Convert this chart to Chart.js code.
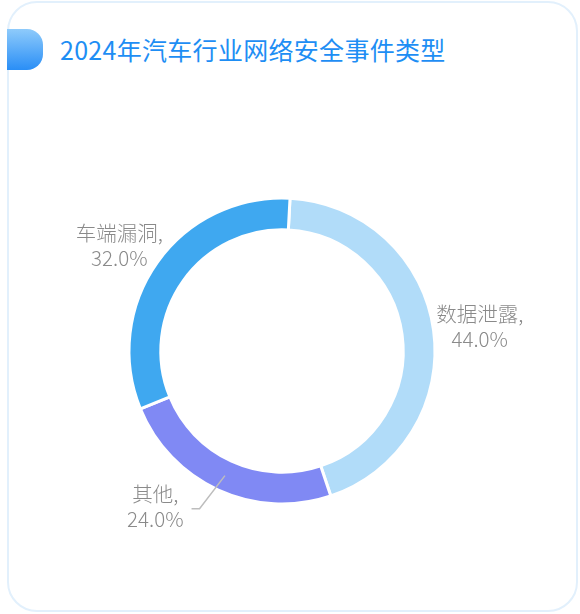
<!DOCTYPE html>
<html>
<head>
<meta charset="utf-8">
<script src="https://cdn.jsdelivr.net/npm/chart.js@4.4.1/dist/chart.umd.min.js"></script>
<style>
  html, body { margin: 0; padding: 0; background: #ffffff; }
  body { width: 580px; height: 614px; position: relative; overflow: hidden; font-family: "Noto Sans CJK SC", "Noto Sans", sans-serif; }
  .card { position: absolute; left: 7px; top: 1px; width: 567px; height: 607px; border: 2px solid #e2f0fc; border-radius: 30px; background: #fff; }
  .icon { position: absolute; left: 7px; top: 29px; width: 36px; height: 41px; border-radius: 0 16px 16px 0; background: linear-gradient(180deg, #8ecbfb 0%, #2a8ef6 100%); }
  .title { position: absolute; left: 60px; top: 33px; font-size: 25px; line-height: 32px; color: #1e8ef4; white-space: nowrap; letter-spacing: 0.3px; }
  #c { position: absolute; left: 0; top: 0; }
</style>
</head>
<body>
<div class="card"></div>
<div class="icon"></div>
<div class="title">2024年汽车行业网络安全事件类型</div>
<canvas id="c" width="580" height="614"></canvas>
<script>
const categories = ['数据泄露', '其他', '车端漏洞'];
const shares = [44.0, 24.0, 32.0];
const sliceColors = ['#b1dcf9', '#8089f4', '#3fa8f0'];

const labelPlugin = {
  id: 'outerLabels',
  afterDatasetsDraw(chart, args, opts) {
    const ctx = chart.ctx;
    const meta = chart.getDatasetMeta(0);
    const ds = chart.data.datasets[0];
    ctx.save();
    ctx.font = opts.font;
    ctx.fillStyle = opts.color;
    ctx.textBaseline = 'middle';
    meta.data.forEach((arc, i) => {
      const p = arc.getProps(['x', 'y', 'startAngle', 'endAngle', 'outerRadius', 'innerRadius'], true);
      const mid = (p.startAngle + p.endAngle) / 2;
      const c = Math.cos(mid), s = Math.sin(mid);
      const lines = [chart.data.labels[i] + ',', ds.data[i].toFixed(1) + '%'];
      const w = Math.max(...lines.map(t => ctx.measureText(t).width));
      const lh = opts.lineHeight;
      const h = lh * lines.length;
      let cx, cy;
      if (opts.lineIndices.includes(i)) {
        const rm = (p.outerRadius + p.innerRadius) / 2;
        const x0 = p.x + c * rm, y0 = p.y + s * rm;
        const a1 = mid + (c < 0 ? 1 : -1) * opts.bend * Math.PI / 180;
        const r1 = p.outerRadius + opts.len1;
        const x1 = p.x + Math.cos(a1) * r1, y1 = p.y + Math.sin(a1) * r1;
        const dirX = c < 0 ? -1 : 1;
        const x2 = x1 + dirX * opts.len2;
        ctx.save();
        ctx.strokeStyle = opts.lineColor;
        ctx.lineWidth = 1.5;
        ctx.beginPath();
        ctx.moveTo(x0, y0); ctx.lineTo(x1, y1); ctx.lineTo(x2, y1);
        ctx.stroke();
        ctx.restore();
        cx = x2 + dirX * (opts.textGap + w / 2);
        cy = y1 - 2;
      } else {
        const ax = p.x + c * (p.outerRadius + opts.gap);
        const ay = p.y + s * (p.outerRadius + opts.gap);
        cx = ax + c * w / 2;
        cy = ay + s * h / 2;
      }
      ctx.textAlign = 'center';
      lines.forEach((t, k) => {
        ctx.fillText(t, cx, cy + (k - (lines.length - 1) / 2) * lh);
      });
    });
    ctx.restore();
  }
};

new Chart(document.getElementById('c'), {
  type: 'doughnut',
  data: {
    labels: categories,
    datasets: [{
      data: shares,
      backgroundColor: sliceColors,
      borderColor: '#ffffff',
      borderWidth: 3,
      hoverOffset: 0
    }]
  },
  options: {
    responsive: false,
    devicePixelRatio: 1,
    animation: false,
    rotation: 3,
    cutout: '79.2%',
    layout: { padding: { left: 127.5, right: 143.5, top: 196.5, bottom: 108.5 } },
    plugins: {
      legend: { display: false },
      tooltip: { enabled: false },
      outerLabels: {
        font: '300 20.5px "Noto Sans CJK SC", "Noto Sans", sans-serif',
        color: '#8a8a8a',
        lineColor: '#bdbdbd',
        lineHeight: 25,
        gap: 3,
        lineIndices: [1],
        len1: 25,
        len2: 8,
        bend: 3,
        textGap: 8
      }
    }
  },
  plugins: [labelPlugin]
});
</script>
</body>
</html>
